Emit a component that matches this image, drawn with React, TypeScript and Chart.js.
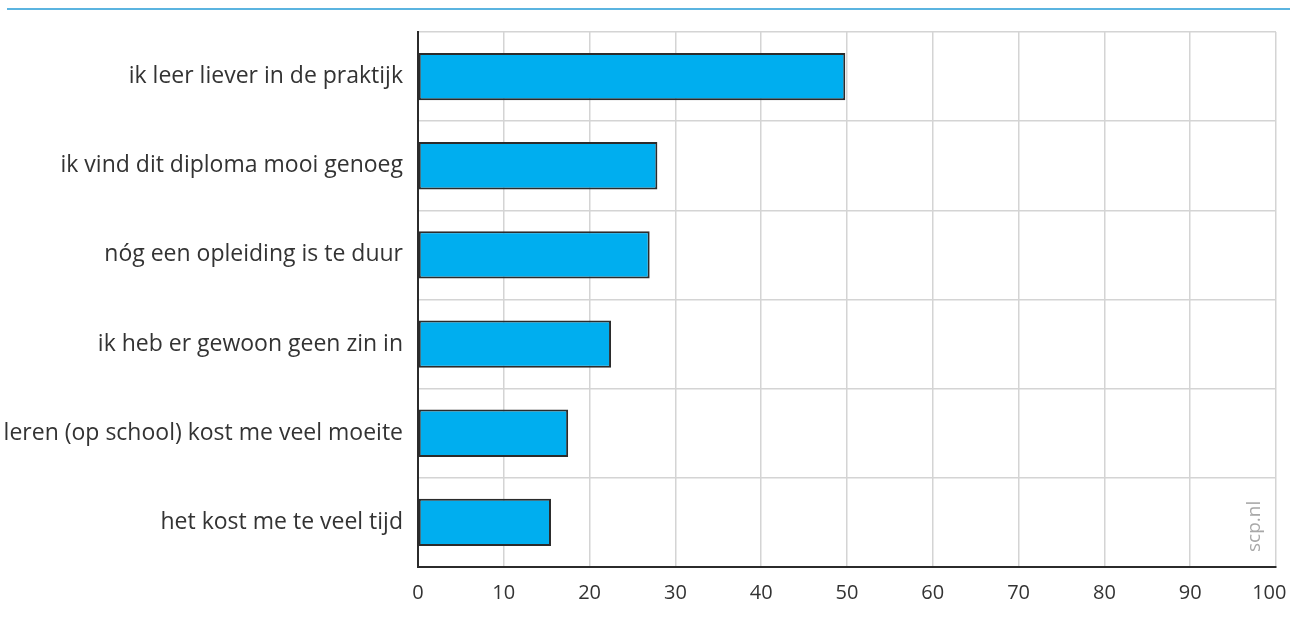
import React, { useEffect, useRef } from "react";
import { Chart, registerables } from "chart.js";

Chart.register(...registerables);

const categories = [
  "ik leer liever in de praktijk",
  "ik vind dit diploma mooi genoeg",
  "nóg een opleiding is te duur",
  "ik heb er gewoon geen zin in",
  "leren (op school) kost me veel moeite",
  "het kost me te veel tijd",
];
const values = [49.8, 27.9, 27.0, 22.5, 17.5, 15.5];
const xTicks = [0, 10, 20, 30, 40, 50, 60, 70, 80, 90, 100];
const watermark = "scp.nl";

const decorPlugin = {
  id: "decor",
  beforeDraw(chart: any) {
    const ctx = chart.ctx;
    ctx.save();
    ctx.strokeStyle = "#5bb4e0";
    ctx.lineWidth = 2;
    ctx.beginPath();
    ctx.moveTo(7, 9);
    ctx.lineTo(1290, 9);
    ctx.stroke();
    ctx.restore();
  },
  afterDraw(chart: any) {
    const ctx = chart.ctx;
    const area = chart.chartArea;
    ctx.save();
    ctx.translate(area.right - 21, area.bottom - 15);
    ctx.rotate(-Math.PI / 2);
    ctx.fillStyle = "#a8a8a8";
    ctx.font = "19px 'Open Sans'";
    ctx.textAlign = "left";
    ctx.textBaseline = "middle";
    ctx.fillText(watermark, 0, 0);
    ctx.restore();
  },
};

export default function App() {
  const ref = useRef<HTMLCanvasElement | null>(null);
  useEffect(() => {
    if (!ref.current) return;
    const chart = new Chart(ref.current, {
      type: "bar",
      data: {
        labels: categories,
        datasets: [
          {
            data: values,
            backgroundColor: "#00aeef",
            borderColor: "#2b2b2b",
            borderWidth: 2,
            borderSkipped: false,
            categoryPercentage: 1,
            barPercentage: 0.53,
          },
        ],
      },
      options: {
        indexAxis: "y",
        animation: false,
        responsive: false,
        maintainAspectRatio: false,
        layout: { padding: { left: 0, right: 14, top: 32, bottom: 0 } },
        plugins: { legend: { display: false }, tooltip: { enabled: false } },
        scales: {
          x: {
            type: "linear",
            min: 0,
            max: 100,
            afterBuildTicks(scale: any) {
              scale.ticks = xTicks.map((v) => ({ value: v }));
            },
            afterFit(scale: any) {
              scale.height = 63;
              scale.paddingLeft = 0;
              scale.paddingRight = 0;
            },
            grid: { color: "#d4d4d4", lineWidth: 1.5, drawTicks: false },
            border: { color: "#2b2b2b", width: 2 },
            ticks: {
              padding: 14,
              color: "#333",
              font: { family: "'Open Sans'", size: 20 },
              callback: (v: any) => (v === 100 ? "100\u2002\u2009" : String(v)),
            },
          },
          y: {
            afterFit(scale: any) {
              scale.width = 418;
              scale.paddingTop = 0;
              scale.paddingBottom = 0;
            },
            grid: { color: "#d4d4d4", lineWidth: 1.5, drawTicks: false, offset: true },
            border: { color: "#2b2b2b", width: 2 },
            ticks: {
              padding: 15,
              color: "#333",
              font: { family: "'Open Sans'", size: 23 },
            },
          },
        },
      },
      plugins: [decorPlugin],
    });
    return () => chart.destroy();
  }, []);
  return (
    <div style={{ position: "absolute", left: 0, top: 0, width: 1290, height: 630, background: "#fff" }}>
      <canvas ref={ref} width={1290} height={630} style={{ display: "block" }} />
    </div>
  );
}
